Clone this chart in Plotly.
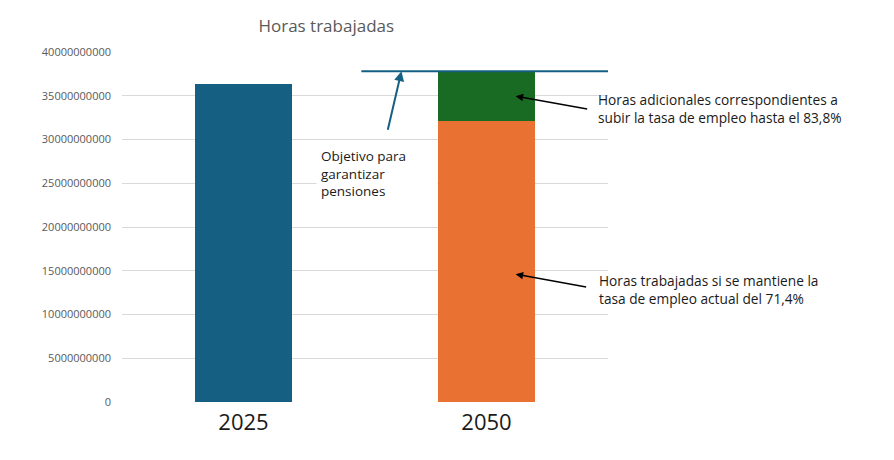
import plotly.graph_objects as go

# --- DATA ---
years = ["2025", "2050"]
horas_base = [36.3e9, 32.1e9]      # 2025 actual / 2050 con tasa 71,4%
horas_extra = [None, 5.7e9]        # horas adicionales hasta 83,8%
objetivo = 37.8e9                  # objetivo para garantizar pensiones
y_ticks = [0, 5e9, 10e9, 15e9, 20e9, 25e9, 30e9, 35e9, 40e9]

FONT = "Open Sans"
BLUE = "#156082"
ORANGE = "#E97132"
GREEN = "#196B24"

fig = go.Figure()
fig.add_trace(go.Bar(
    x=years, y=horas_base,
    marker=dict(color=[BLUE, ORANGE], line=dict(width=0)),
    width=0.4, showlegend=False,
))
fig.add_trace(go.Bar(
    x=years, y=horas_extra,
    marker=dict(color=GREEN, line=dict(width=0)),
    width=0.4, showlegend=False,
))

# target line (extends a bit beyond the plot area)
fig.add_shape(type="line", xref="x", yref="y",
              x0=0.485, x1=1.505, y0=objetivo, y1=objetivo,
              line=dict(color=BLUE, width=2))

annotations = [
    # arrow to the target line
    dict(x=0.65, y=objetivo, xref="x", yref="y", ax=-14, ay=60,
         text="", showarrow=True, arrowhead=2, arrowsize=1, arrowwidth=2,
         arrowcolor=BLUE),
    dict(x=0.3, y=26.1e9, xref="x", yref="y", xanchor="left", yanchor="middle",
         text="Objetivo para<br>garantizar<br>pensiones", showarrow=False,
         align="left", bgcolor="white", width=112, borderpad=4,
         font=dict(family=FONT, size=13.5, color="#1a1a1a")),
    # arrow into green segment
    dict(x=1.12, y=34.95e9, xref="x", yref="y", ax=73, ay=13,
         text="", showarrow=True, arrowhead=2, arrowsize=1, arrowwidth=1.5,
         arrowcolor="black"),
    dict(x=1.45, y=33.5e9, xref="x", yref="y", xanchor="left", yanchor="middle",
         text="Horas adicionales correspondientes a<br>subir la tasa de empleo hasta el 83,8%",
         showarrow=False, align="left",
         font=dict(family=FONT, size=13.7, color="#1a1a1a")),
    # arrow into orange segment
    dict(x=1.12, y=14.6e9, xref="x", yref="y", ax=72, ay=13,
         text="", showarrow=True, arrowhead=2, arrowsize=1, arrowwidth=1.5,
         arrowcolor="black"),
    dict(x=1.455, y=12.9e9, xref="x", yref="y", xanchor="left", yanchor="middle",
         text="Horas trabajadas si se mantiene la<br>tasa de empleo actual del 71,4%",
         showarrow=False, align="left",
         font=dict(family=FONT, size=13.7, color="#1a1a1a")),
]

fig.update_layout(
    width=894, height=460,
    barmode="stack",
    bargap=0.6,
    plot_bgcolor="white", paper_bgcolor="white",
    margin=dict(l=114, r=294, t=44, b=66),
    title=dict(text="Horas trabajadas", x=0.356, xanchor="center", y=0.961,
               yanchor="middle", font=dict(family=FONT, size=17, color="#595959")),
    annotations=annotations,
    xaxis=dict(type="category", range=[-0.5, 1.5], showgrid=False, showline=False,
               ticks="", ticklabelstandoff=5,
               tickfont=dict(family=FONT, size=22, color="#1a1a1a")),
    yaxis=dict(range=[0, 40e9], tickvals=y_ticks,
               ticktext=[f"{int(v)}" for v in y_ticks],
               showgrid=True, gridcolor="#d9d9d9", gridwidth=1,
               zeroline=False, showline=False, ticks="", ticklabelstandoff=10,
               tickfont=dict(family=FONT, size=11, color="#595959")),
)

fig.write_html("out.html")
